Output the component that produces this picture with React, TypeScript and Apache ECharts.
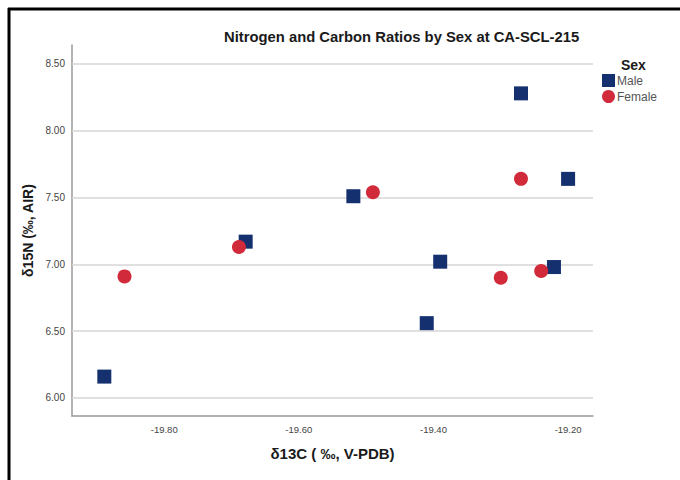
import React, { useEffect, useRef } from "react";
import * as echarts from "echarts";

const maleX = [-19.889, -19.679, -19.519, -19.39, -19.41, -19.27, -19.2, -19.221];
const maleY = [6.16, 7.17, 7.51, 7.02, 6.56, 8.28, 7.64, 6.98];
const femaleX = [-19.859, -19.689, -19.49, -19.3, -19.24, -19.27];
const femaleY = [6.91, 7.13, 7.54, 6.9, 6.95, 7.64];
const xTicks = [-19.8, -19.6, -19.4, -19.2];
const yTicks = [6.0, 6.5, 7.0, 7.5, 8.0, 8.5];

const FONT = 'Arial, "Liberation Sans", sans-serif';
const MALE_COLOR = "#14306e";
const FEMALE_COLOR = "#d12a3b";

export default function App() {
  const ref = useRef<HTMLDivElement>(null);
  useEffect(() => {
    document.body.style.margin = "0";
    const chart = echarts.init(ref.current!, null, { renderer: "svg" });
    const pair = (xs: number[], ys: number[]) => xs.map((x, i) => [x, ys[i]]);
    chart.setOption({
      animation: false,
      backgroundColor: "#ffffff",
      textStyle: { fontFamily: FONT },
      title: [
        {
          text: "Nitrogen and Carbon Ratios by Sex at CA-SCL-215",
          left: 219,
          top: 24,
          textStyle: { fontSize: 14.8, fontWeight: "bold", color: "#1a1a1a", fontFamily: FONT },
        },
        {
          text: "Sex",
          left: 616,
          top: 53,
          textStyle: { fontSize: 14, fontWeight: "bold", color: "#1a1a1a", fontFamily: FONT },
        },
      ],
      legend: {
        orient: "vertical",
        left: 602,
        top: 74,
        itemWidth: 13,
        itemHeight: 13,
        itemGap: 3,
        padding: 0,
        textStyle: { fontSize: 12, color: "#555", fontFamily: FONT, padding: [0, 0, 0, -3] },
        data: [
          { name: "Male", icon: "rect" },
          { name: "Female", icon: "circle" },
        ],
      },
      grid: { left: 72, right: 87, top: 45, bottom: 64 },
      xAxis: {
        type: "value",
        min: -19.937,
        max: -19.163,
        name: "δ13C ( ‰, V-PDB)",
        nameLocation: "middle",
        nameGap: 30,
        nameTextStyle: { fontSize: 15, fontWeight: "bold", color: "#1a1a1a", fontFamily: FONT },
        axisLine: { show: true, lineStyle: { color: "#999", width: 1.5 } },
        axisTick: { show: false, customValues: xTicks },
        axisLabel: {
          customValues: xTicks,
          formatter: (v: number) => v.toFixed(2),
          fontSize: 9.5,
          color: "#444",
          margin: 8,
          fontFamily: FONT,
        },
        splitLine: { show: false },
      },
      yAxis: {
        type: "value",
        min: 5.865,
        max: 8.642,
        name: "δ15N (‰, AIR)",
        nameLocation: "middle",
        nameGap: 35,
        nameTextStyle: { fontSize: 14, fontWeight: "bold", color: "#1a1a1a", fontFamily: FONT },
        axisLine: { show: true, lineStyle: { color: "#999", width: 1.5 } },
        axisTick: { show: false, customValues: yTicks },
        axisLabel: {
          customValues: yTicks,
          formatter: (v: number) => v.toFixed(2),
          fontSize: 10,
          color: "#444",
          margin: 7,
          fontFamily: FONT,
        },
        splitLine: { show: false },
      },
      series: [
        {
          name: "Male",
          type: "scatter",
          symbol: "rect",
          symbolSize: 14,
          itemStyle: { color: MALE_COLOR, opacity: 1, borderRadius: 1 },
          data: pair(maleX, maleY),
          z: 3,
          markLine: {
            silent: true,
            symbol: "none",
            label: { show: false },
            lineStyle: { color: "#d6d6d6", type: "solid", width: 1.5 },
            data: yTicks.map((v) => ({ yAxis: v })),
            z: 1,
          },
        },
        {
          name: "Female",
          type: "scatter",
          symbol: "circle",
          symbolSize: 14,
          itemStyle: { color: FEMALE_COLOR, opacity: 1 },
          data: pair(femaleX, femaleY),
          z: 4,
        },
      ],
      graphic: [
        { type: "line", shape: { x1: 9, y1: 8, x2: 9, y2: 480 }, style: { stroke: "#000", lineWidth: 3 } },
        { type: "line", shape: { x1: 8, y1: 9, x2: 680, y2: 9 }, style: { stroke: "#000", lineWidth: 3 } },
      ],
    });
    return () => chart.dispose();
  }, []);
  return (
    <div
      ref={ref}
      style={{ position: "absolute", left: 0, top: 0, width: 680, height: 480 }}
    />
  );
}
